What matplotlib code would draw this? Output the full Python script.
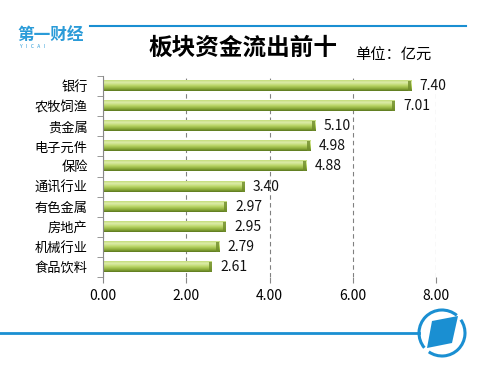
import matplotlib
matplotlib.use("Agg")
import matplotlib.pyplot as plt
import numpy as np
from matplotlib.patches import Rectangle, Polygon, Arc
from matplotlib.colors import LinearSegmentedColormap

plt.rcParams['font.family'] = ['Noto Sans CJK SC', 'DejaVu Sans']

categories = ["银行", "农牧饲渔", "贵金属", "电子元件", "保险",
              "通讯行业", "有色金属", "房地产", "机械行业", "食品饮料"]
values = [7.40, 7.01, 5.10, 4.98, 4.88, 3.40, 2.97, 2.95, 2.79, 2.61]
xticks = [0, 2, 4, 6, 8]
xtick_labels = ["0.00", "2.00", "4.00", "6.00", "8.00"]
title = "板块资金流出前十"
unit = "单位：亿元"

W, H = 492, 373
fig = plt.figure(figsize=(W / 100, H / 100), dpi=100)
fig.patch.set_facecolor("white")

ax = fig.add_axes([103 / W, 1 - 277 / H, 333 / W, 201 / H])
n = len(categories)
ypos = np.arange(n)[::-1]
bh = 0.5

cmap = LinearSegmentedColormap.from_list(
    "barg", [(0.0, "#5a761e"), (0.22, "#8cab3a"), (0.5, "#bad666"),
             (0.78, "#dcecaa"), (1.0, "#c4dc7a")])
grad = np.linspace(0, 1, 64).reshape(-1, 1)
for y, v in zip(ypos, values):
    ax.imshow(grad, cmap=cmap, extent=(0, v, y - bh / 2, y + bh / 2),
              origin="lower", aspect="auto", interpolation="bilinear", zorder=2)
    ax.add_patch(Rectangle((v - 0.07, y - bh / 2), 0.07, bh,
                           facecolor="#6f8c2a", edgecolor="none", alpha=0.8, zorder=3))
    ax.text(v + 0.2, y, f"{v:.2f}", ha="left", va="center", fontsize=10,
            color="#111111", zorder=4)

ax.set_xlim(0, 8)
ax.set_ylim(-0.5, n - 0.5)
ax.set_xticks(xticks)
ax.set_xticklabels(xtick_labels, fontsize=10)
ax.set_yticks(ypos)
ax.set_yticklabels(categories, fontsize=9.5)
ax.set_yticks(np.arange(-0.5, n, 1), minor=True)
ax.tick_params(axis="y", which="major", length=0, pad=11)
ax.tick_params(axis="y", which="minor", length=4, color="#888888", direction="out")
ax.tick_params(axis="x", which="major", length=4, color="#888888", direction="out", pad=5)
ax.grid(axis="x", linestyle=(0, (4, 3)), color="#808080", linewidth=0.8, zorder=0)
for s in ["top", "right", "bottom"]:
    ax.spines[s].set_visible(False)
ax.spines["left"].set_color("#888888")
ax.set_axisbelow(True)

# decoration overlay in pixel coords
ov = fig.add_axes([0, 0, 1, 1], zorder=-1)
ov.set_xlim(0, W)
ov.set_ylim(H, 0)
ov.axis("off")
blue = "#1a8fd2"
ov.plot([90, 466], [26, 26], color=blue, linewidth=1.5)
ov.text(17, 35, "第一财经", fontsize=12, fontweight="bold", color="#2a9bd8",
        ha="left", va="center", style="italic")
ov.text(20, 46, "Y   I   C   A   I", fontsize=3.5, color="#2a9bd8", ha="left", va="center")
ov.text(243, 48, title, fontsize=17, fontweight="bold", ha="center", va="center")
ov.text(355, 55, unit, fontsize=11, ha="left", va="center")

ov.plot([0, 419], [333, 333], color=blue, linewidth=2)
ov.add_patch(Arc((442, 333), 46, 46, theta1=-35, theta2=125, color=blue, linewidth=2.2))
ov.add_patch(Arc((442, 333), 46, 46, theta1=140, theta2=310, color=blue, linewidth=2.2))
ov.add_patch(Polygon([(432, 321), (458, 316), (452, 343), (427, 348)],
                     closed=True, facecolor=blue, edgecolor="none"))

fig.savefig("out.png", dpi=100)
